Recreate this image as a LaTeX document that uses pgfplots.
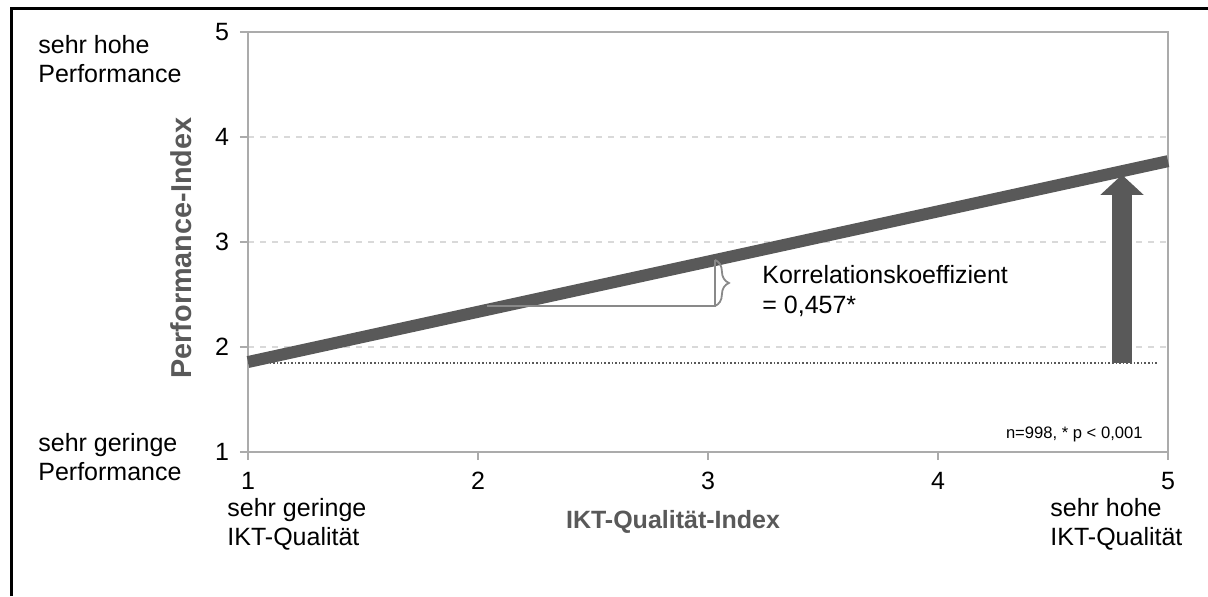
\documentclass[border=0pt]{standalone}
\usepackage{fontspec}
\setmainfont{Liberation Sans}
\usepackage{pgfplots}
\pgfplotsset{compat=1.18}
\usetikzlibrary{arrows.meta,decorations.pathreplacing}
\definecolor{dg}{HTML}{595959}
\definecolor{ax}{HTML}{ABABAB}
\definecolor{gr}{HTML}{D9D9D9}
\begin{document}
\begin{tikzpicture}
\useasboundingbox (-124pt,-72pt) rectangle (480pt,226pt);
\begin{axis}[
  at={(0pt,0pt)}, anchor=south west,
  scale only axis, width=460pt, height=210pt,
  xmin=1, xmax=5, ymin=1, ymax=5,
  xtick={1,2,3,4,5}, ytick={1,2,3,4,5},
  xtick pos=lower, ytick pos=left,
  axis line style={ax, line width=0.9pt},
  tick style={ax, line width=0.8pt},
  tick align=outside, major tick length=4pt,
  ymajorgrids, grid style={gr, dashed, line width=0.6pt},
  /pgf/number format/assume math mode=true,
  tick label style={font=\fontsize{12.5}{14}\selectfont},
  yticklabel style={anchor=east, xshift=-2pt},
  xticklabel style={anchor=north, yshift=-2.5pt},
  clip=false,
]
\addplot[dg, line width=6pt, line cap=butt] coordinates {(1,1.857) (5,3.77)};
\addplot[dg, densely dotted, line width=0.8pt] coordinates {(1,1.85) (4.95,1.85)};
\addplot[dg, line width=10pt, -{Triangle[width=21pt,length=10pt]}] coordinates {(4.8,1.85) (4.8,3.64)};
\addplot[ax!80!black, line width=0.9pt] coordinates {(2.04,2.39) (3.03,2.39) (3.03,2.83)};
\draw[ax!80!black, line width=0.9pt, decorate, decoration={brace, amplitude=7pt}] (axis cs:3.03,2.83) -- (axis cs:3.03,2.39);
\end{axis}
\draw[black, line width=1.5pt] (-118pt,-72pt) -- (-118pt,222pt) -- (480pt,222pt);
\begin{scope}[every node/.style={inner sep=0pt, font=\fontsize{12.5}{14.5}\selectfont}]
\node[anchor=north west, align=left] at (-105pt,208.5pt) {sehr hohe\\Performance};
\node[anchor=north west, align=left] at (-105pt,9.5pt) {sehr geringe\\Performance};
\node[anchor=north west, align=left] at (-10.5pt,-23pt) {sehr geringe\\IKT-Qualität};
\node[anchor=north west, align=left] at (401pt,-23pt) {sehr hohe\\IKT-Qualität};
\node[anchor=north west, align=left, font=\fontsize{12.5}{15}\selectfont] at (257pt,93.5pt) {Korrelationskoeffizient\\= 0,457*};
\node[font=\fontsize{12.5}{14.5}\selectfont\bfseries, text=dg] at (212.5pt,-35pt) {IKT-Qualität-Index};
\node[font=\fontsize{14.4}{16}\selectfont\bfseries, text=dg, rotate=90] at (-33.5pt,102pt) {Performance-Index};
\node[anchor=base east, font=\fontsize{8.3}{10}\selectfont] at (447.5pt,7pt) {n=998, * p < 0,001};
\end{scope}
\end{tikzpicture}
\end{document}
